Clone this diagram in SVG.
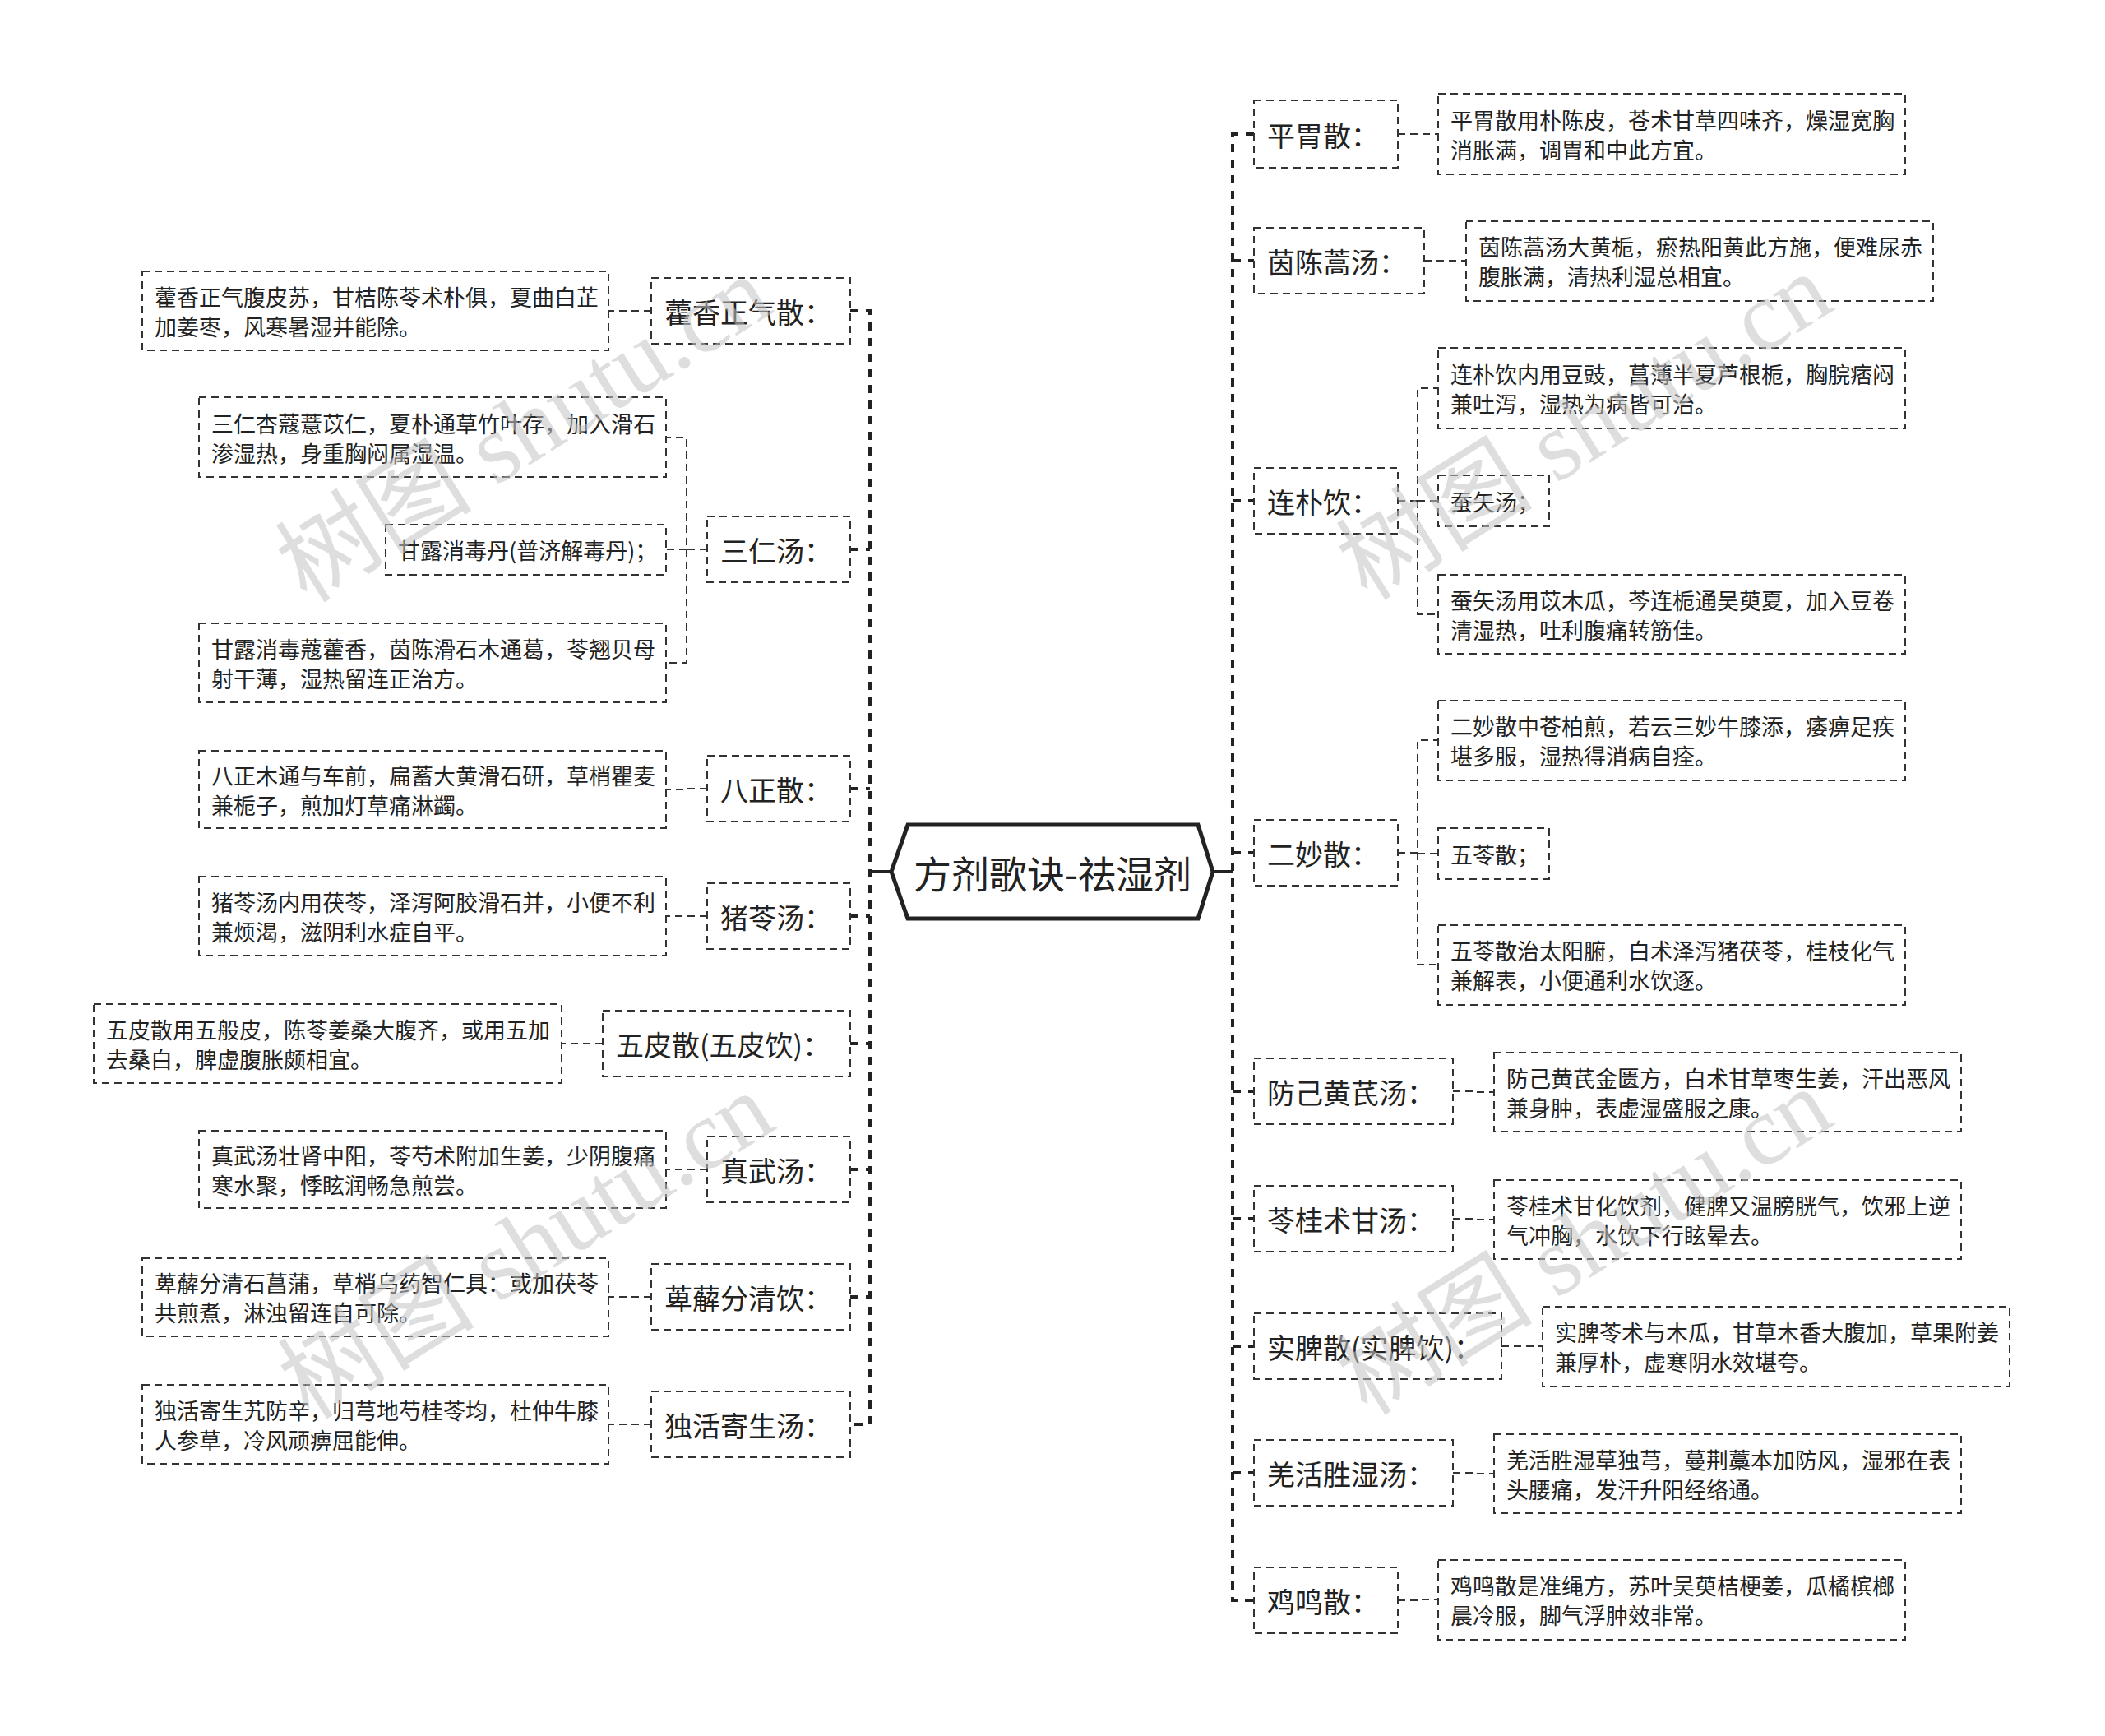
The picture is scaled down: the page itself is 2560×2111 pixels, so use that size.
<svg xmlns="http://www.w3.org/2000/svg" width="2560" height="2111" viewBox="0 0 2560 2111">
<style>
.box{fill:#fff;stroke:#333;stroke-width:2;stroke-dasharray:9 6}
.link{fill:none;stroke:#333;stroke-width:2;stroke-dasharray:9 6}
.spine{fill:none;stroke:#222;stroke-width:4;stroke-dasharray:10 9}
.solid{fill:none;stroke:#222;stroke-width:4}
.t{font-family:"Noto Sans CJK SC","Liberation Sans",sans-serif;fill:#222;dominant-baseline:central}
.leaf{font-size:27px}
.lv1{font-size:34px}
.root{font-size:46px;text-anchor:middle}
.wm{font-family:"Liberation Serif","Noto Sans CJK SC",serif;font-size:120px;fill:#c4c4c4;opacity:0.55;text-anchor:middle;dominant-baseline:central}
</style>
<rect width="2560" height="2111" fill="#fff"/>
<g id="connectors">
<path class="solid" d="M1058 1060H1084M1475 1060H1499"/>
<path class="spine" d="M1034 378H1058V1732H1034M1034 668H1058M1034 959H1058M1034 1114H1058M1034 1269H1058M1034 1422H1058M1034 1577H1058"/>
<path class="spine" d="M1525 163H1499V1946H1525M1499 317H1525M1499 609H1525M1499 1037H1525M1499 1327H1525M1499 1482H1525M1499 1637H1525M1499 1791H1525"/>
<path class="link" d="M792 378H766V378H740"/>
<path class="link" d="M860 668H835V532H810M835 668H810M835 668V806H810"/>
<path class="link" d="M860 959H835V960H810"/>
<path class="link" d="M860 1114H835V1114H810"/>
<path class="link" d="M733 1269H708V1269H683"/>
<path class="link" d="M860 1422H835V1422H810"/>
<path class="link" d="M792 1577H766V1577H740"/>
<path class="link" d="M792 1732H766V1732H740"/>
<path class="link" d="M1700 163H1724V163H1749"/>
<path class="link" d="M1732 317H1757V317H1783"/>
<path class="link" d="M1700 609H1724V472H1749M1724 609H1749M1724 609V747H1749"/>
<path class="link" d="M1700 1037H1724V900H1749M1724 1038H1749M1724 1037V1173H1749"/>
<path class="link" d="M1767 1327H1792V1328H1817"/>
<path class="link" d="M1767 1482H1792V1483H1817"/>
<path class="link" d="M1826 1637H1851V1637H1876"/>
<path class="link" d="M1767 1791H1792V1792H1817"/>
<path class="link" d="M1700 1946H1724V1945H1749"/>
</g>
<g id="root">
<polygon points="1084,1060 1104,1003 1457,1003 1475,1060 1457,1117 1104,1117" fill="#fff" stroke="#222" stroke-width="5"/>
<text class="t root" x="1280" y="1060">方剂歌诀-祛湿剂</text>
</g>
<g id="n-huoxiang"><rect class="box" x="792" y="338" width="242" height="80"/><text class="t lv1" x="808" y="378">藿香正气散：</text></g>
<g id="n-sanren"><rect class="box" x="860" y="628" width="174" height="80"/><text class="t lv1" x="876" y="668">三仁汤：</text></g>
<g id="n-bazheng"><rect class="box" x="860" y="919" width="174" height="80"/><text class="t lv1" x="876" y="959">八正散：</text></g>
<g id="n-zhuling"><rect class="box" x="860" y="1074" width="174" height="80"/><text class="t lv1" x="876" y="1114">猪苓汤：</text></g>
<g id="n-wupi"><rect class="box" x="733" y="1229" width="301" height="80"/><text class="t lv1" x="749" y="1269">五皮散(五皮饮)：</text></g>
<g id="n-zhenwu"><rect class="box" x="860" y="1382" width="174" height="80"/><text class="t lv1" x="876" y="1422">真武汤：</text></g>
<g id="n-bixie"><rect class="box" x="792" y="1537" width="242" height="80"/><text class="t lv1" x="808" y="1577">萆薢分清饮：</text></g>
<g id="n-duhuo"><rect class="box" x="792" y="1692" width="242" height="80"/><text class="t lv1" x="808" y="1732">独活寄生汤：</text></g>
<g id="l-huoxiang"><rect class="box" x="173" y="330" width="567" height="96"/><text class="t leaf" x="188" y="360">藿香正气腹皮苏，甘桔陈苓术朴俱，夏曲白芷</text><text class="t leaf" x="188" y="396">加姜枣，风寒暑湿并能除。</text></g>
<g id="l-sanren1"><rect class="box" x="242" y="483" width="568" height="97"/><text class="t leaf" x="257" y="514">三仁杏蔻薏苡仁，夏朴通草竹叶存，加入滑石</text><text class="t leaf" x="257" y="550">渗湿热，身重胸闷属湿温。</text></g>
<g id="l-sanren2"><rect class="box" x="469" y="638" width="341" height="61"/><text class="t leaf" x="484" y="668">甘露消毒丹(普济解毒丹)；</text></g>
<g id="l-sanren3"><rect class="box" x="242" y="758" width="568" height="96"/><text class="t leaf" x="257" y="788">甘露消毒蔻藿香，茵陈滑石木通葛，苓翘贝母</text><text class="t leaf" x="257" y="824">射干薄，湿热留连正治方。</text></g>
<g id="l-bazheng"><rect class="box" x="242" y="913" width="568" height="94"/><text class="t leaf" x="257" y="942">八正木通与车前，扁蓄大黄滑石研，草梢瞿麦</text><text class="t leaf" x="257" y="978">兼栀子，煎加灯草痛淋蠲。</text></g>
<g id="l-zhuling"><rect class="box" x="242" y="1066" width="568" height="96"/><text class="t leaf" x="257" y="1096">猪苓汤内用茯苓，泽泻阿胶滑石并，小便不利</text><text class="t leaf" x="257" y="1132">兼烦渴，滋阴利水症自平。</text></g>
<g id="l-wupi"><rect class="box" x="114" y="1221" width="569" height="96"/><text class="t leaf" x="129" y="1251">五皮散用五般皮，陈苓姜桑大腹齐，或用五加</text><text class="t leaf" x="129" y="1287">去桑白，脾虚腹胀颇相宜。</text></g>
<g id="l-zhenwu"><rect class="box" x="242" y="1375" width="568" height="94"/><text class="t leaf" x="257" y="1404">真武汤壮肾中阳，苓芍术附加生姜，少阴腹痛</text><text class="t leaf" x="257" y="1440">寒水聚，悸眩润畅急煎尝。</text></g>
<g id="l-bixie"><rect class="box" x="173" y="1530" width="567" height="95"/><text class="t leaf" x="188" y="1559">萆薢分清石菖蒲，草梢乌药智仁具：或加茯苓</text><text class="t leaf" x="188" y="1595">共煎煮，淋浊留连自可除。</text></g>
<g id="l-duhuo"><rect class="box" x="173" y="1684" width="567" height="96"/><text class="t leaf" x="188" y="1714">独活寄生艽防辛，归芎地芍桂苓均，杜仲牛膝</text><text class="t leaf" x="188" y="1750">人参草，冷风顽痹屈能伸。</text></g>
<g id="n-pingwei"><rect class="box" x="1525" y="122" width="175" height="82"/><text class="t lv1" x="1541" y="163">平胃散：</text></g>
<g id="n-yinchen"><rect class="box" x="1525" y="277" width="207" height="80"/><text class="t lv1" x="1541" y="317">茵陈蒿汤：</text></g>
<g id="n-lianpo"><rect class="box" x="1525" y="569" width="175" height="80"/><text class="t lv1" x="1541" y="609">连朴饮：</text></g>
<g id="n-ermiao"><rect class="box" x="1525" y="997" width="175" height="80"/><text class="t lv1" x="1541" y="1037">二妙散：</text></g>
<g id="n-fangji"><rect class="box" x="1525" y="1287" width="242" height="80"/><text class="t lv1" x="1541" y="1327">防己黄芪汤：</text></g>
<g id="n-linggui"><rect class="box" x="1525" y="1442" width="242" height="80"/><text class="t lv1" x="1541" y="1482">苓桂术甘汤：</text></g>
<g id="n-shipi"><rect class="box" x="1525" y="1597" width="301" height="80"/><text class="t lv1" x="1541" y="1637">实脾散(实脾饮)：</text></g>
<g id="n-qianghuo"><rect class="box" x="1525" y="1751" width="242" height="80"/><text class="t lv1" x="1541" y="1791">羌活胜湿汤：</text></g>
<g id="n-jiming"><rect class="box" x="1525" y="1906" width="175" height="80"/><text class="t lv1" x="1541" y="1946">鸡鸣散：</text></g>
<g id="l-pingwei"><rect class="box" x="1749" y="114" width="568" height="98"/><text class="t leaf" x="1764" y="145">平胃散用朴陈皮，苍术甘草四味齐，燥湿宽胸</text><text class="t leaf" x="1764" y="181">消胀满，调胃和中此方宜。</text></g>
<g id="l-yinchen"><rect class="box" x="1783" y="269" width="568" height="97"/><text class="t leaf" x="1798" y="299">茵陈蒿汤大黄栀，瘀热阳黄此方施，便难尿赤</text><text class="t leaf" x="1798" y="335">腹胀满，清热利湿总相宜。</text></g>
<g id="l-lianpo1"><rect class="box" x="1749" y="423" width="568" height="98"/><text class="t leaf" x="1764" y="454">连朴饮内用豆豉，菖薄半夏芦根栀，胸脘痞闷</text><text class="t leaf" x="1764" y="490">兼吐泻，湿热为病皆可治。</text></g>
<g id="l-lianpo2"><rect class="box" x="1749" y="578" width="135" height="62"/><text class="t leaf" x="1764" y="609">蚕矢汤；</text></g>
<g id="l-lianpo3"><rect class="box" x="1749" y="699" width="568" height="96"/><text class="t leaf" x="1764" y="729">蚕矢汤用苡木瓜，芩连栀通吴萸夏，加入豆卷</text><text class="t leaf" x="1764" y="765">清湿热，吐利腹痛转筋佳。</text></g>
<g id="l-ermiao1"><rect class="box" x="1749" y="852" width="568" height="97"/><text class="t leaf" x="1764" y="882">二妙散中苍柏煎，若云三妙牛膝添，痿痹足疾</text><text class="t leaf" x="1764" y="918">堪多服，湿热得消病自痊。</text></g>
<g id="l-ermiao2"><rect class="box" x="1749" y="1007" width="135" height="62"/><text class="t leaf" x="1764" y="1038">五苓散；</text></g>
<g id="l-ermiao3"><rect class="box" x="1749" y="1125" width="568" height="97"/><text class="t leaf" x="1764" y="1155">五苓散治太阳腑，白术泽泻猪茯苓，桂枝化气</text><text class="t leaf" x="1764" y="1191">兼解表，小便通利水饮逐。</text></g>
<g id="l-fangji"><rect class="box" x="1817" y="1280" width="568" height="96"/><text class="t leaf" x="1832" y="1310">防己黄芪金匮方，白术甘草枣生姜，汗出恶风</text><text class="t leaf" x="1832" y="1346">兼身肿，表虚湿盛服之康。</text></g>
<g id="l-linggui"><rect class="box" x="1817" y="1435" width="568" height="96"/><text class="t leaf" x="1832" y="1465">苓桂术甘化饮剂，健脾又温膀胱气，饮邪上逆</text><text class="t leaf" x="1832" y="1501">气冲胸，水饮下行眩晕去。</text></g>
<g id="l-shipi"><rect class="box" x="1876" y="1589" width="568" height="97"/><text class="t leaf" x="1891" y="1619">实脾苓术与木瓜，甘草木香大腹加，草果附姜</text><text class="t leaf" x="1891" y="1655">兼厚朴，虚寒阴水效堪夸。</text></g>
<g id="l-qianghuo"><rect class="box" x="1817" y="1744" width="568" height="96"/><text class="t leaf" x="1832" y="1774">羌活胜湿草独芎，蔓荆藁本加防风，湿邪在表</text><text class="t leaf" x="1832" y="1810">头腰痛，发汗升阳经络通。</text></g>
<g id="l-jiming"><rect class="box" x="1749" y="1897" width="568" height="97"/><text class="t leaf" x="1764" y="1927">鸡鸣散是准绳方，苏叶吴萸桔梗姜，瓜橘槟榔</text><text class="t leaf" x="1764" y="1963">晨冷服，脚气浮肿效非常。</text></g>
<g id="watermarks">
<text class="wm" transform="translate(637 522) rotate(-32)">树图 shutu.cn</text>
<text class="wm" transform="translate(1927 519) rotate(-32)">树图 shutu.cn</text>
<text class="wm" transform="translate(640 1515) rotate(-32)">树图 shutu.cn</text>
<text class="wm" transform="translate(1927 1510) rotate(-32)">树图 shutu.cn</text>
</g>
</svg>
